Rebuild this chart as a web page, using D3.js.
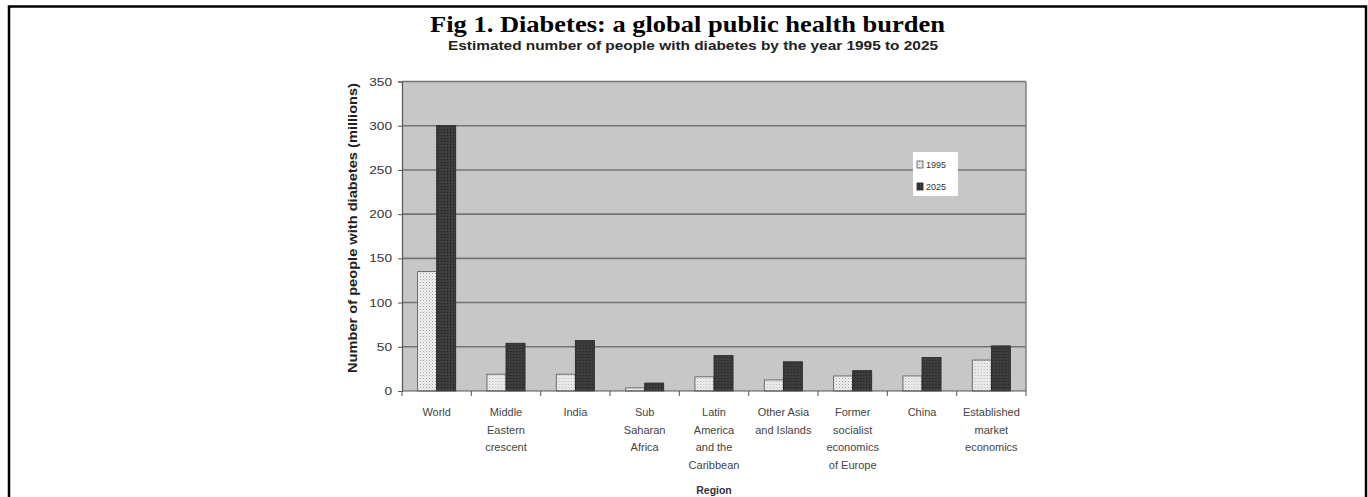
<!DOCTYPE html>
<html>
<head>
<meta charset="utf-8">
<script src="https://cdn.jsdelivr.net/npm/d3@7"></script>
<style>
  html, body { margin: 0; padding: 0; background: #fff; }
  svg { display: block; }
</style>
</head>
<body>
<svg id="chart" width="1368" height="497"></svg>
<script>
// Regions (multi-line labels split on "|")
const categories = [
  "World",
  "Middle|Eastern|crescent",
  "India",
  "Sub|Saharan|Africa",
  "Latin|America|and the|Caribbean",
  "Other Asia|and Islands",
  "Former|socialist|economics|of Europe",
  "China",
  "Established|market|economics"
];
const seriesNames = ["1995", "2025"];
const values1995 = [135, 19, 19, 3.5, 16, 12.5, 17, 17, 35];
const values2025 = [300, 54, 57, 9, 40, 33, 23, 38, 51];
const yTicks = [0, 50, 100, 150, 200, 250, 300, 350];

const svg = d3.select("#chart");
const sans = "'Liberation Sans', Arial, sans-serif";

// Outer frame
svg.append("rect")
  .attr("x", 9).attr("y", 6.5).attr("width", 1357).attr("height", 500)
  .attr("fill", "none").attr("stroke", "#000").attr("stroke-width", 2.5);

// Titles
svg.append("text")
  .attr("x", 430).attr("y", 31.5)
  .attr("textLength", 515).attr("lengthAdjust", "spacingAndGlyphs")
  .style("font-family", "'Liberation Serif', 'Times New Roman', serif")
  .style("font-weight", "bold").style("font-size", "23px")
  .attr("fill", "#000")
  .text("Fig 1. Diabetes: a global public health burden");

svg.append("text")
  .attr("x", 448).attr("y", 50)
  .attr("textLength", 490).attr("lengthAdjust", "spacingAndGlyphs")
  .style("font-family", sans)
  .style("font-weight", "bold").style("font-size", "12px")
  .attr("fill", "#222")
  .text("Estimated number of people with diabetes by the year 1995 to 2025");

// Plot geometry
const plotLeft = 402, plotRight = 1026, plotTop = 81.5, plotBottom = 391;

const x0 = d3.scaleBand().domain(categories).range([plotLeft, plotRight]).padding(0);
const x1 = d3.scaleBand().domain(seriesNames)
  .range([0, x0.bandwidth()]).paddingInner(0).paddingOuter(0.82);
const y = d3.scaleLinear().domain([0, 350]).range([plotBottom, plotTop]);

// Bar fill patterns
const defs = svg.append("defs");
const pLight = defs.append("pattern").attr("id", "p1995")
  .attr("width", 3).attr("height", 3).attr("patternUnits", "userSpaceOnUse");
pLight.append("rect").attr("width", 3).attr("height", 3).attr("fill", "#f0f0f0");
pLight.append("rect").attr("x", 0).attr("y", 0).attr("width", 1).attr("height", 1).attr("fill", "#a8a8a8");
pLight.append("rect").attr("x", 1.5).attr("y", 1.5).attr("width", 1).attr("height", 1).attr("fill", "#c4c4c4");

const pDark = defs.append("pattern").attr("id", "p2025")
  .attr("width", 3).attr("height", 3).attr("patternUnits", "userSpaceOnUse");
pDark.append("rect").attr("width", 3).attr("height", 3).attr("fill", "#3a3a3a");
pDark.append("rect").attr("x", 0).attr("y", 0).attr("width", 1).attr("height", 1).attr("fill", "#222");
pDark.append("rect").attr("x", 1.5).attr("y", 1.5).attr("width", 1).attr("height", 1).attr("fill", "#4a4a4a");

// Plot area background
svg.append("rect")
  .attr("x", plotLeft).attr("y", plotTop)
  .attr("width", plotRight - plotLeft).attr("height", plotBottom - plotTop)
  .attr("fill", "#c7c7c7");

// Gridlines
svg.append("g").selectAll("line")
  .data(yTicks.filter(d => d > 0))
  .join("line")
  .attr("x1", plotLeft).attr("x2", plotRight)
  .attr("y1", d => y(d)).attr("y2", d => y(d))
  .attr("stroke", "#747474").attr("stroke-width", 1.6);

// Right border of plot
svg.append("line")
  .attr("x1", plotRight).attr("x2", plotRight).attr("y1", plotTop).attr("y2", plotBottom)
  .attr("stroke", "#808080").attr("stroke-width", 1.5);

// Bars
const data = categories.map((c, i) => ({ c, v: [values1995[i], values2025[i]] }));
const groups = svg.append("g").selectAll("g")
  .data(data).join("g")
  .attr("transform", d => `translate(${x0(d.c)},0)`);

groups.selectAll("rect")
  .data(d => seriesNames.map((s, j) => ({ s, v: d.v[j] })))
  .join("rect")
  .attr("x", d => x1(d.s))
  .attr("y", d => y(d.v))
  .attr("width", x1.bandwidth())
  .attr("height", d => plotBottom - y(d.v))
  .attr("fill", d => d.s === "1995" ? "url(#p1995)" : "url(#p2025)")
  .attr("stroke", d => d.s === "1995" ? "#555" : "#222")
  .attr("stroke-width", 0.8);

// Y axis
const yAxis = d3.axisLeft(y).tickValues(yTicks).tickSize(4).tickPadding(6);
const gy = svg.append("g").attr("transform", `translate(${plotLeft},0)`).call(yAxis);
gy.select(".domain").attr("stroke", "#555").attr("stroke-width", 1.2);
gy.selectAll(".tick line").attr("stroke", "#555");
gy.selectAll(".tick text")
  .style("font-family", sans)
  .style("font-size", "11px").attr("fill", "#333")
  .attr("textLength", d => String(d).length * 7.6)
  .attr("lengthAdjust", "spacingAndGlyphs");

// X axis
const gx = svg.append("g").attr("transform", `translate(0,${plotBottom})`);
gx.append("line").attr("x1", plotLeft).attr("x2", plotRight)
  .attr("stroke", "#555").attr("stroke-width", 1.2);
gx.selectAll(".tk")
  .data(categories.map(c => x0(c)).concat([plotRight]))
  .join("line").attr("class", "tk")
  .attr("x1", d => d).attr("x2", d => d).attr("y1", 0).attr("y2", 5)
  .attr("stroke", "#555");

const labels = gx.selectAll(".lbl").data(categories).join("text")
  .attr("class", "lbl")
  .attr("text-anchor", "middle")
  .style("font-family", sans)
  .style("font-size", "11px").attr("fill", "#444");
labels.each(function(c) {
  const t = d3.select(this);
  c.split("|").forEach((line, k) => {
    t.append("tspan")
      .attr("x", x0(c) + x0.bandwidth() / 2)
      .attr("y", 25 + k * 17.5)
      .text(line);
  });
});

// Axis titles
svg.append("text")
  .attr("x", 714).attr("y", 494)
  .attr("text-anchor", "middle")
  .style("font-family", sans)
  .style("font-weight", "bold").style("font-size", "10.5px")
  .attr("fill", "#333")
  .text("Region");

svg.append("text")
  .attr("transform", `translate(357,228) rotate(-90)`)
  .attr("text-anchor", "middle")
  .attr("textLength", 290).attr("lengthAdjust", "spacingAndGlyphs")
  .style("font-family", sans)
  .style("font-weight", "bold").style("font-size", "12px")
  .attr("fill", "#222")
  .text("Number of people with diabetes (millions)");

// Legend
const lg = svg.append("g").attr("transform", "translate(913,152)");
lg.append("rect").attr("width", 45).attr("height", 44).attr("fill", "#fff");
seriesNames.forEach((s, i) => {
  lg.append("rect")
    .attr("x", 4).attr("y", 9 + i * 22).attr("width", 6).attr("height", 7)
    .attr("fill", s === "1995" ? "url(#p1995)" : "url(#p2025)")
    .attr("stroke", s === "1995" ? "#555" : "#222").attr("stroke-width", 0.8);
  lg.append("text")
    .attr("x", 13).attr("y", 16 + i * 22)
    .style("font-family", sans)
    .style("font-size", "9px").attr("fill", "#333")
    .text(s);
});
</script>
</body>
</html>
